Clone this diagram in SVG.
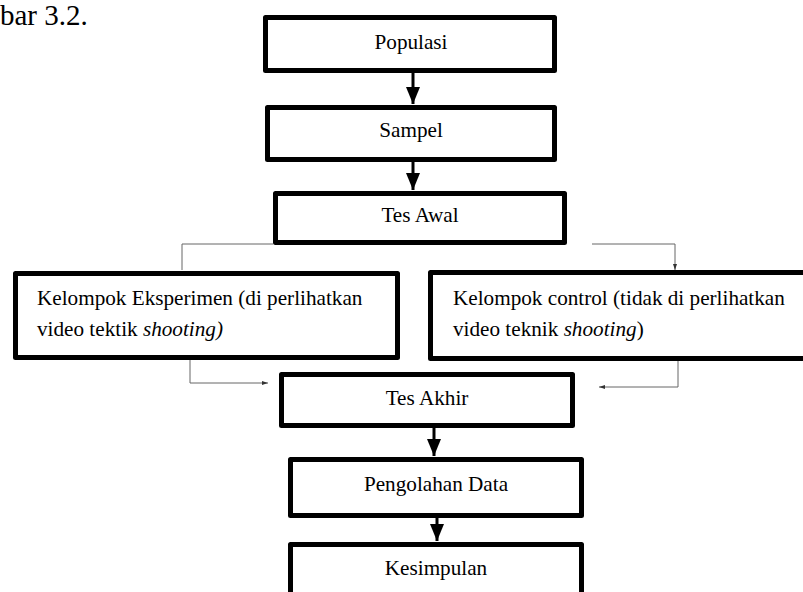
<svg xmlns="http://www.w3.org/2000/svg" width="803" height="592" viewBox="0 0 803 592">
<style>
.box{fill:#fff;stroke:#000;stroke-width:5;stroke-linejoin:round}
text{font-family:'Liberation Serif','Times New Roman',serif;fill:#000}
.t{font-size:21.2px}
.c{text-anchor:middle}
.thick{stroke:#000;stroke-width:3;fill:none}
.thin{stroke:#666;stroke-width:1;fill:none}
</style>
<defs>
<marker id="big" viewBox="0 0 17 14" refX="17" refY="7" markerWidth="17" markerHeight="14" markerUnits="userSpaceOnUse" orient="auto">
<path d="M0,0 L17,7 L0,14 Z" fill="#000"/>
</marker>
<marker id="small" viewBox="0 0 6 4" refX="6" refY="2" markerWidth="6" markerHeight="4" markerUnits="userSpaceOnUse" orient="auto">
<path d="M0,0 L6,2 L0,4 Z" fill="#333"/>
</marker>
</defs>
<rect width="803" height="592" fill="#fff"/>
<text x="0" y="25" font-size="29">bar 3.2.</text>
<g id="connectors">
<line class="thick" x1="413" y1="73" x2="413" y2="104" marker-end="url(#big)"/>
<line class="thick" x1="413" y1="162" x2="413" y2="190" marker-end="url(#big)"/>
<polyline class="thin" points="273,244 182,244 182,270"/>
<polyline class="thin" points="592,244 675,244 675,270" marker-end="url(#small)"/>
<polyline class="thin" points="190,360 190,383 268,383" marker-end="url(#small)"/>
<polyline class="thin" points="678,360 678,387 599,387" marker-end="url(#small)"/>
<line class="thick" x1="434" y1="428" x2="434" y2="456" marker-end="url(#big)"/>
<line class="thick" x1="437" y1="518" x2="437" y2="541" marker-end="url(#big)"/>
</g>
<g id="populasi">
<rect class="box" x="265.5" y="17.5" width="289" height="53"/>
<text class="t c" x="411" y="49">Populasi</text>
</g>
<g id="sampel">
<rect class="box" x="267.5" y="107.5" width="287" height="52"/>
<text class="t c" x="411" y="137">Sampel</text>
</g>
<g id="tes-awal">
<rect class="box" x="275.5" y="193.5" width="289" height="49"/>
<text class="t c" x="420" y="222">Tes Awal</text>
</g>
<g id="eksperimen">
<rect class="box" x="15.5" y="273.5" width="382" height="84"/>
<text class="t" x="37" y="305">Kelompok Eksperimen (di perlihatkan</text>
<text class="t" x="37" y="336">video tektik <tspan font-style="italic">shooting)</tspan></text>
</g>
<g id="control">
<rect class="box" x="430.5" y="272.5" width="400" height="86"/>
<text class="t" x="453" y="305">Kelompok control (tidak di perlihatkan</text>
<text class="t" x="453" y="336">video teknik <tspan font-style="italic">shooting</tspan>)</text>
</g>
<g id="tes-akhir">
<rect class="box" x="281.5" y="374.5" width="291" height="51"/>
<text class="t c" x="427" y="405">Tes Akhir</text>
</g>
<g id="pengolahan">
<rect class="box" x="290.5" y="459.5" width="291" height="56"/>
<text class="t c" x="436" y="491">Pengolahan Data</text>
</g>
<g id="kesimpulan">
<rect class="box" x="290.5" y="544.5" width="291" height="70"/>
<text class="t c" x="436" y="575">Kesimpulan</text>
</g>
</svg>
